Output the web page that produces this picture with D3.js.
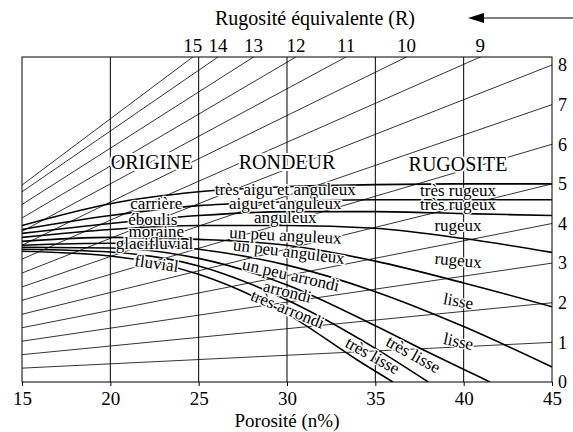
<!DOCTYPE html>
<meta charset="utf-8">

<head>
    <meta charset="utf-8">
    <title>Rugosite equivalente</title>
    <script src="https://d3js.org/d3.v7.min.js"></script>
    <style>
        body { margin: 0; background: #fff; }
        svg text { font-family: "Liberation Serif", "Times New Roman", serif; fill: #000; }
    </style>
</head>

<body>
    <svg width="573" height="432" font-family="Liberation Serif"></svg>
    <script>
        // straight lines of equal roughness R : value at n=15 (right end sits at R)
        var rValues = [1, 2, 3, 4, 5, 6, 7, 8, 9, 10, 11, 12, 13, 14, 15];
        var rLeft = [0.35, 0.69, 1.03, 1.37, 1.71, 2.06, 2.4, 2.75, 3.1, 3.45, 3.8, 4.14, 4.48, 4.8, 4.97];
        var rightTicks = [0, 1, 2, 3, 4, 5, 6, 7, 8];
        var xTicks = [15, 20, 25, 30, 35, 40, 45];

        // thick boundary curves, [porosite, ordonnee]
        var curve1 = [[15, 3.95], [20, 4.5], [25, 4.8], [30, 4.93], [35, 4.98], [40, 5.0], [45, 5.0]];
        var curve2 = [[15, 3.85], [20, 4.2], [25, 4.45], [30, 4.55], [35, 4.6], [40, 4.6], [45, 4.6]];
        var curve3 = [[15, 3.75], [20, 4.0], [25, 4.2], [30, 4.3], [35, 4.3], [40, 4.25], [45, 4.2]];
        var curve4 = [[15, 3.65], [20, 3.85], [25, 3.95], [30, 3.95], [35, 3.88], [40, 3.62], [45, 3.27]];
        var curve5 = [[15, 3.55], [20, 3.65], [25, 3.6], [30, 3.45], [35, 3.05], [40, 2.5], [45, 1.9]];
        var curve6 = [[15, 3.45], [20, 3.5], [25, 3.35], [30, 2.95], [35, 2.28], [40, 1.4], [45, 0.38]];
        var curve7 = [[15, 3.4], [20, 3.38], [25, 3.12], [30, 2.45], [35, 1.42], [38, 0.75], [41.5, 0]];
        var curve8 = [[15, 3.35], [20, 3.28], [25, 2.93], [30, 2.07], [35, 0.85], [38, 0]];
        var curve9 = [[15, 3.3], [20, 3.18], [25, 2.72], [30, 1.72], [34, 0.55], [36, 0]];
        var curves = [curve1, curve2, curve3, curve4, curve5, curve6, curve7, curve8, curve9];

        // zone labels: text, porosite, ordonnee, angle
        var headers = [["ORIGINE", 22.35, 5.48], ["RONDEUR", 30, 5.5], ["RUGOSITE", 39.68, 5.43]];
        var origine = [["carrière", 22.6, 4.47, 0], ["éboulis", 22.4, 4.05, 0], ["moraine", 22.6, 3.76, 0],
                       ["glacifluvial", 22.5, 3.46, 0], ["fluvial", 22.6, 2.95, 8]];
        var rondeur = [["très aigu et anguleux", 29.9, 4.83, 0], ["aigu et anguleux", 29.9, 4.47, 0],
                       ["anguleux", 29.9, 4.12, 0], ["un peu anguleux", 29.9, 3.66, 3],
                       ["un peu anguleux", 30.1, 3.25, 7], ["un peu arrondi", 30.2, 2.66, 13],
                       ["arrondi", 30.0, 2.24, 14], ["très arrondi", 30.0, 1.8, 22]];
        var rugosite = [["très rugeux", 39.68, 4.8, 0], ["très rugeux", 39.68, 4.44, 0],
                        ["rugeux", 39.68, 3.9, 0], ["rugeux", 39.68, 3.03, 5],
                        ["lisse", 39.68, 2.0, 10], ["lisse", 39.68, 0.98, 12],
                        ["très lisse", 37.1, 0.66, 29], ["très lisse", 34.8, 0.63, 29]];

        var svg = d3.select("svg");
        var pLeft = 22, pRight = 552, pTop = 57, pBottom = 382;

        var x = d3.scaleLinear().domain([15, 45]).range([pLeft, pRight]);
        var y = d3.scaleLinear().domain([0, 8]).range([pBottom, 65]);
        var yTop = y.invert(pTop);

        svg.append("defs").append("clipPath").attr("id", "plot")
            .append("rect").attr("x", pLeft).attr("y", pTop)
            .attr("width", pRight - pLeft).attr("height", pBottom - pTop);

        var plot = svg.append("g").attr("clip-path", "url(#plot)");

        // fan of straight lines
        plot.append("g").selectAll("line")
            .data(rValues)
            .enter().append("line")
            .attr("x1", x(15)).attr("y1", function (d, i) { return y(rLeft[i]); })
            .attr("x2", x(45)).attr("y2", function (d) { return y(d); })
            .attr("stroke", "#000").attr("stroke-width", 0.8);

        // vertical grid
        plot.append("g").selectAll("line")
            .data(xTicks.slice(1, -1))
            .enter().append("line")
            .attr("x1", function (d) { return x(d); }).attr("x2", function (d) { return x(d); })
            .attr("y1", pTop).attr("y2", pBottom)
            .attr("stroke", "#000").attr("stroke-width", 1);

        // thick curves
        var line = d3.line()
            .x(function (d) { return x(d[0]); })
            .y(function (d) { return y(d[1]); })
            .curve(d3.curveMonotoneX);

        plot.append("g").selectAll("path")
            .data(curves)
            .enter().append("path")
            .attr("d", line)
            .attr("fill", "none").attr("stroke", "#000").attr("stroke-width", 1.6);

        // frame
        svg.append("rect").attr("x", pLeft).attr("y", pTop)
            .attr("width", pRight - pLeft).attr("height", pBottom - pTop)
            .attr("fill", "none").attr("stroke", "#000").attr("stroke-width", 1);

        // bottom axis
        var xAxis = d3.axisBottom(x).tickValues(xTicks).tickSize(4).tickPadding(6);
        var gx = svg.append("g").attr("transform", "translate(0," + pBottom + ")").call(xAxis)
            .attr("font-family", null).attr("font-size", null);
        gx.select(".domain").remove();
        gx.selectAll("text").style("font-size", "19px");

        // right axis
        var yAxis = d3.axisRight(y).tickValues(rightTicks).tickSize(0).tickPadding(6).tickFormat(d3.format("d"));
        var gy = svg.append("g").attr("transform", "translate(" + pRight + ",0)").call(yAxis)
            .attr("font-family", null).attr("font-size", null);
        gy.select(".domain").remove();
        gy.selectAll("text").style("font-size", "18px");

        // top labels where R lines leave the frame
        svg.append("g").selectAll("text")
            .data(rValues.filter(function (d) { return d > 8; }))
            .enter().append("text")
            .attr("x", function (d) {
                var l = rLeft[d - 1];
                return x(15 + (yTop - l) * 30 / (d - l));
            })
            .attr("y", 52)
            .attr("text-anchor", "middle")
            .style("font-size", "19px")
            .text(function (d) { return d; });

        // titles
        svg.append("text").attr("x", 315).attr("y", 25).attr("text-anchor", "middle")
            .style("font-size", "20px").text("Rugosité équivalente (R)");
        svg.append("text").attr("x", x(30)).attr("y", 427).attr("text-anchor", "middle")
            .style("font-size", "19px").text("Porosité (n%)");

        // arrow
        svg.append("line").attr("x1", 480).attr("y1", 18).attr("x2", 573).attr("y2", 18)
            .attr("stroke", "#000").attr("stroke-width", 1);
        svg.append("path").attr("d", "M468,18L484,13L484,23Z").attr("fill", "#000");

        // zone labels
        var lab = svg.append("g");
        lab.selectAll("text.h")
            .data(headers)
            .enter().append("text").attr("class", "h")
            .attr("x", function (d) { return x(d[1]); })
            .attr("y", function (d) { return y(d[2]); })
            .attr("text-anchor", "middle").attr("dominant-baseline", "middle")
            .style("font-size", "20px")
            .style("stroke", "#fff").style("stroke-width", 4).style("paint-order", "stroke")
            .text(function (d) { return d[0]; });

        lab.selectAll("text.z")
            .data(origine.concat(rondeur, rugosite))
            .enter().append("text").attr("class", "z")
            .attr("transform", function (d) {
                return "translate(" + x(d[1]) + "," + y(d[2]) + ") rotate(" + d[3] + ")";
            })
            .attr("text-anchor", "middle").attr("dominant-baseline", "middle")
            .style("font-size", "17px")
            .style("stroke", "#fff").style("stroke-width", 2.5).style("paint-order", "stroke")
            .text(function (d) { return d[0]; });
    </script>
</body>
